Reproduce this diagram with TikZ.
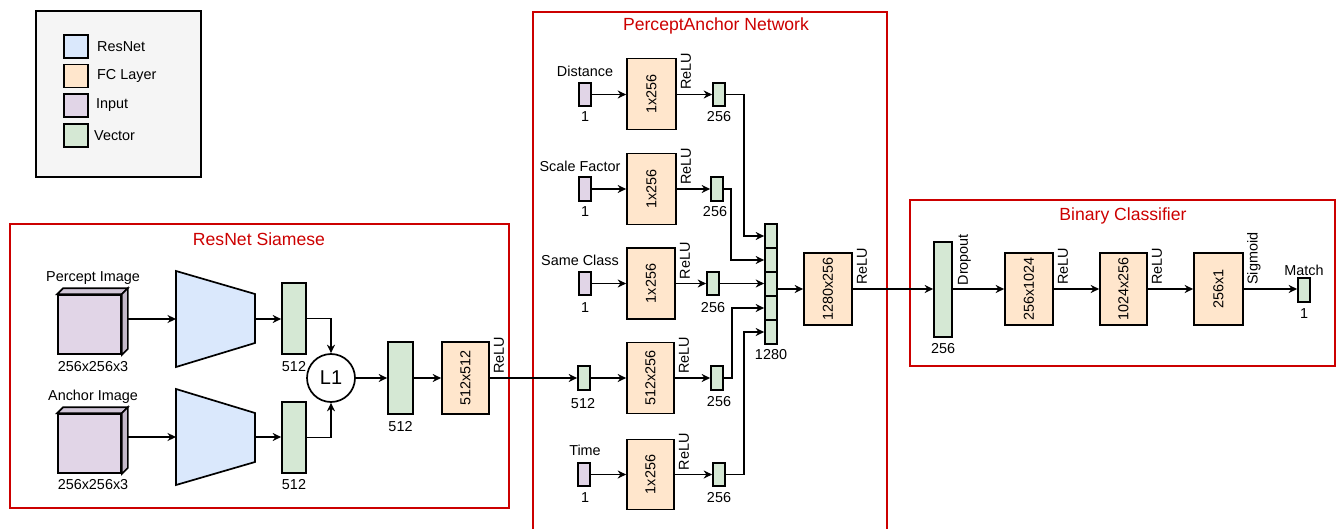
\documentclass[tikz,border=0pt]{standalone}
\usepackage{fontspec}
\setmainfont{Liberation Sans}
\usepackage{graphicx}
\usetikzlibrary{arrows.meta,calc}
\definecolor{resblue}{HTML}{DAE8FC}
\definecolor{fcorange}{HTML}{FFE6CC}
\definecolor{inpurple}{HTML}{E1D5E7}
\definecolor{vecgreen}{HTML}{D5E8D4}
\definecolor{redbox}{HTML}{CC0000}
\definecolor{legendbg}{HTML}{F5F5F5}
\newcommand{\vtext}[1]{\rotatebox{90}{#1}}
\begin{document}
\begin{tikzpicture}[x=1pt,y=-1pt,
  every node/.style={font=\fontsize{14.4}{17}\selectfont, inner sep=0pt},
  box/.style={draw=black, line width=1.7pt},
  fcbox/.style={box, fill=fcorange},
  vecbox/.style={box, fill=vecgreen},
  inbox/.style={box, fill=inpurple},
  group/.style={draw=redbox, line width=2.6pt},
  gtitle/.style={text=redbox, font=\fontsize{17.6}{20}\selectfont},
  arr/.style={line width=1.7pt, -{Stealth[length=8.5pt,width=8pt]}},
  act/.style={rotate=90, anchor=north west},
  sw/.style={box, minimum width=24, minimum height=23},
]
\useasboundingbox (0,0) rectangle (1337,529);

% ---------- legend ----------
\node[box, fill=legendbg, minimum width=165, minimum height=166] (legend) at (118.5,94) {};
\node[sw, fill=resblue] (lg1) at (76,46.5) {};
\node[sw, fill=fcorange] (lg2) at (76,76) {};
\node[sw, fill=inpurple] (lg3) at (76,105.5) {};
\node[sw, fill=vecgreen] (lg4) at (76,135.5) {};
\node[anchor=west] (lt1) at (97,46.5) {ResNet};
\node[anchor=west] (lt2) at (97,76) {FC Layer};
\node[anchor=west] (lt3) at (96,105.5) {Input};
\node[anchor=west] (lt4) at (94,135.5) {Vector};

% ---------- ResNet Siamese ----------
\node[group, minimum width=499, minimum height=284] (gres) at (259.5,366) {};
\node[gtitle] (tres) at (259,239) {ResNet Siamese};

% cubes
\node[inbox, minimum width=63, minimum height=59] (cube1) at (89.5,324.5) {};
\draw[box, fill=inpurple!93!black] (cube1.north west) -- ++(6,-6) -- ($(cube1.north east)+(6,-6)$) -- (cube1.north east) -- cycle;
\draw[box, fill=inpurple!87!black] (cube1.north east) -- ++(6,-6) -- ($(cube1.south east)+(6,-6)$) -- (cube1.south east) -- cycle;
\coordinate (cube1r) at ($(cube1.east)+(6,0)$);
\node[inbox, minimum width=63, minimum height=59] (cube2) at (89.5,443.5) {};
\draw[box, fill=inpurple!93!black] (cube2.north west) -- ++(6,-6) -- ($(cube2.north east)+(6,-6)$) -- (cube2.north east) -- cycle;
\draw[box, fill=inpurple!87!black] (cube2.north east) -- ++(6,-6) -- ($(cube2.south east)+(6,-6)$) -- (cube2.south east) -- cycle;
\coordinate (cube2r) at ($(cube2.east)+(6,0)$);
\node (tpi) at (93,278) {Percept Image};
\node (tpd) at (93,367) {256x256x3};
\node (tai) at (93,397) {Anchor Image};
\node (tad) at (93,485) {256x256x3};

% ResNet trapezoids
\draw[box, fill=resblue] (176,271) -- (255,294) -- (255,343) -- (176,367) -- cycle;
\draw[box, fill=resblue] (176,389) -- (255,413) -- (255,462) -- (176,485) -- cycle;
\coordinate (t1w) at (176,319);
\coordinate (t1e) at (255,319);
\coordinate (t2w) at (176,437);
\coordinate (t2e) at (255,437);

\node[vecbox, minimum width=24, minimum height=71] (v1) at (294,318.5) {};
\node[vecbox, minimum width=24, minimum height=71] (v2) at (294,437.5) {};
\node (tv1) at (294,367) {512};
\node (tv2) at (294,485) {512};
\node[box, circle, fill=white, minimum size=48, font=\fontsize{20}{24}\selectfont] (L1) at (331,378) {L1};
\node[vecbox, minimum width=25, minimum height=72] (v3) at (400.5,378) {};
\node (tv3) at (400.5,427) {512};
\node[fcbox, minimum width=47, minimum height=72] (fr) at (465.5,378) {\vtext{512x512}};
\node[act] (afr) at ($(fr.east)+(4,-4)$) {ReLU};

\draw[arr] (cube1r |- t1w) -- (t1w);
\draw[arr] (cube2r |- t2w) -- (t2w);
\draw[arr] (t1e) -- (t1e -| v1.west);
\draw[arr] (t2e) -- (t2e -| v2.west);
\draw[arr] (v1.east) -| (L1.north);
\draw[arr] (v2.east) -| (L1.south);
\draw[arr] (L1.east) -- (v3.west);
\draw[arr] (v3.east) -- (fr.west);

% ---------- PerceptAnchor Network ----------
\draw[group] (533,545) -- (533,12) -- (887,12) -- (887,545);
\node[gtitle] (tpa) at (716,26) {PerceptAnchor Network};

% row 1 Distance
\node[inbox, minimum width=12, minimum height=23] (i1) at (585,94.5) {};
\node[fcbox, minimum width=49, minimum height=71] (f1) at (651.5,94) {\vtext{1x256}};
\node[vecbox, minimum width=12, minimum height=23] (o1) at (719,94.5) {};
\node (ti1) at (585,71) {Distance};
\node (tn1) at (585,117) {1};
\node (to1) at (719,117) {256};
\node[act] (af1) at ($(f1.east)+(4,-4)$) {ReLU};
% row 2 Scale Factor
\node[inbox, minimum width=12, minimum height=24] (i2) at (585,189) {};
\node[fcbox, minimum width=49, minimum height=71] (f2) at (651.5,189) {\vtext{1x256}};
\node[vecbox, minimum width=12, minimum height=24] (o2) at (717,189) {};
\node (ti2) at (580,166) {Scale Factor};
\node (tn2) at (585,212) {1};
\node (to2) at (715,212) {256};
\node[act] (af2) at ($(f2.east)+(4,-4)$) {ReLU};
% row 3 Same Class
\node[inbox, minimum width=12, minimum height=23] (i3) at (585,283.5) {};
\node[fcbox, minimum width=48, minimum height=71] (f3) at (651,283.5) {\vtext{1x256}};
\node[vecbox, minimum width=12, minimum height=23] (o3) at (713,283.5) {};
\node (ti3) at (580,260) {Same Class};
\node (tn3) at (585,308) {1};
\node (to3) at (713,308) {256};
\node[act] (af3) at ($(f3.east)+(4,-4)$) {ReLU};
% row 4 512
\node[vecbox, minimum width=12, minimum height=24] (i4) at (584,378) {};
\node[fcbox, minimum width=47, minimum height=71] (f4) at (650.5,378) {\vtext{512x256}};
\node[vecbox, minimum width=12, minimum height=24] (o4) at (717,378) {};
\node (tn4) at (583,404) {512};
\node (to4) at (719,402) {256};
\node[act] (af4) at ($(f4.east)+(4,-4)$) {ReLU};
% row 5 Time
\node[inbox, minimum width=12, minimum height=23] (i5) at (584,474.5) {};
\node[fcbox, minimum width=47, minimum height=70] (f5) at (650.5,474.5) {\vtext{1x256}};
\node[vecbox, minimum width=12, minimum height=23] (o5) at (719,474.5) {};
\node (ti5) at (585,450) {Time};
\node (tn5) at (585,498) {1};
\node (to5) at (719,498) {256};
\node[act] (af5) at ($(f5.east)+(4,-4)$) {ReLU};

% concat vector
\node[vecbox, minimum width=12, minimum height=24] (c1) at (771,236) {};
\node[vecbox, minimum width=12, minimum height=24] (c2) at (771,260) {};
\node[vecbox, minimum width=12, minimum height=24] (c3) at (771,284) {};
\node[vecbox, minimum width=12, minimum height=24] (c4) at (771,308) {};
\node[vecbox, minimum width=12, minimum height=24] (c5) at (771,332) {};
\node (tc) at (771,355) {1280};
\node[fcbox, minimum width=48, minimum height=72] (fc) at (828,289) {\vtext{1280x256}};
\node[act] (afc) at ($(fc.east)+(4,-4)$) {ReLU};

\draw[arr] (fr.east) -- (fr.east -| i4.west);
\draw[arr] (i1.east) -- (i1.east -| f1.west);
\draw[arr] (i2.east) -- (i2.east -| f2.west);
\draw[arr] (i3.east) -- (i3.east -| f3.west);
\draw[arr] (i4.east) -- (i4.east -| f4.west);
\draw[arr] (i5.east) -- (i5.east -| f5.west);
\draw[arr] (f1.east |- o1.west) -- (o1.west);
\draw[arr] (f2.east |- o2.west) -- (o2.west);
\draw[arr] (f3.east |- o3.west) -- (o3.west);
\draw[arr] (f4.east |- o4.west) -- (o4.west);
\draw[arr] (f5.east |- o5.west) -- (o5.west);
\draw[arr] (o1.east) -| ($(c1.west)+(-20,0)$) -- (c1.west);
\draw[arr] (o2.east) -| ($(c2.west)+(-33,0)$) -- (c2.west);
\draw[arr] (o3.east) -- (o3.east -| c3.west);
\draw[arr] (o4.east) -| ($(c4.west)+(-32,0)$) -- (c4.west);
\draw[arr] (o5.east) -| ($(c5.west)+(-20,0)$) -- (c5.west);
\draw[arr] (c3.east |- fc.west) -- (fc.west);

% ---------- Binary Classifier ----------
\node[group, minimum width=425, minimum height=166] (gbc) at (1122.5,283) {};
\node[gtitle] (tbc) at (1123,216) {Binary Classifier};
\node[vecbox, minimum width=18, minimum height=95] (dr) at (943,289.5) {};
\node (tdr) at (943,349) {256};
\node[act] (adr) at ($(dr.east)+(5,-4)$) {Dropout};
\node[fcbox, minimum width=48, minimum height=72] (b1) at (1029,289) {\vtext{256x1024}};
\node[act] (ab1) at ($(b1.east)+(4,-4)$) {ReLU};
\node[fcbox, minimum width=47, minimum height=72] (b2) at (1123.5,289) {\vtext{1024x256}};
\node[act] (ab2) at ($(b2.east)+(4,-4)$) {ReLU};
\node[fcbox, minimum width=49, minimum height=72] (b3) at (1218.5,289) {\vtext{256x1}};
\node[act] (ab3) at ($(b3.east)+(3,-4)$) {Sigmoid};
\node[vecbox, minimum width=12, minimum height=24] (m) at (1304,290) {};
\node (tm) at (1304,270) {Match};
\node (tm1) at (1304,314) {1};

\draw[arr] (fc.east) -- (fc.east -| dr.west);
\draw[arr] (dr.east |- b1.west) -- (b1.west);
\draw[arr] (b1.east) -- (b2.west);
\draw[arr] (b2.east) -- (b3.west);
\draw[arr] (b3.east) -- (b3.east -| m.west);
\end{tikzpicture}
\end{document}
